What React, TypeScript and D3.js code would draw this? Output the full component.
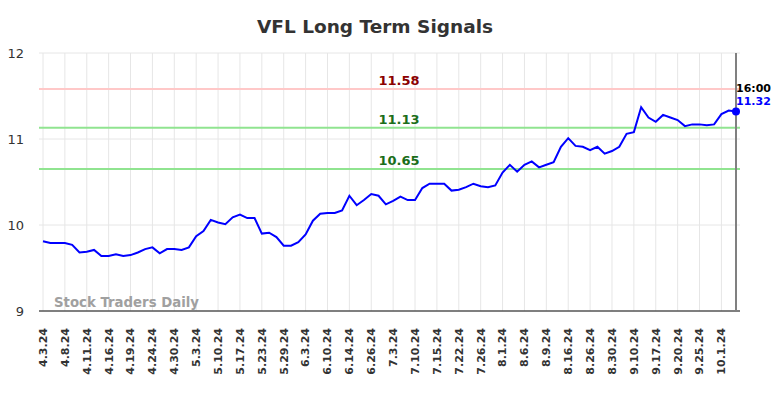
import { useEffect, useRef } from "react";
import * as d3 from "d3";

// closing values, one per trading day
const prices = [
    9.81, 9.79, 9.79, 9.79, 9.77, 9.68, 9.69, 9.71, 9.64, 9.64,
    9.66, 9.64, 9.65, 9.68, 9.72, 9.74, 9.67, 9.72, 9.72, 9.71,
    9.74, 9.87, 9.93, 10.06, 10.03, 10.01, 10.09, 10.12, 10.08, 10.08,
    9.90, 9.91, 9.86, 9.76, 9.76, 9.80, 9.89, 10.05, 10.13, 10.14,
    10.14, 10.17, 10.34, 10.23, 10.29, 10.36, 10.34, 10.24, 10.28, 10.33,
    10.29, 10.29, 10.43, 10.48, 10.48, 10.48, 10.40, 10.41, 10.44, 10.48,
    10.45, 10.44, 10.46, 10.61, 10.70, 10.62, 10.70, 10.74, 10.67, 10.70,
    10.73, 10.91, 11.01, 10.92, 10.91, 10.87, 10.91, 10.83, 10.86, 10.91,
    11.06, 11.08, 11.37, 11.25, 11.20, 11.28, 11.25, 11.22, 11.15, 11.17,
    11.17, 11.16, 11.17, 11.29, 11.33, 11.32,
];

// axis labels, one every third trading day
const tickLabels = [
    "4.3.24", "4.8.24", "4.11.24", "4.16.24", "4.19.24", "4.24.24", "4.30.24", "5.3.24",
    "5.10.24", "5.17.24", "5.23.24", "5.29.24", "6.3.24", "6.10.24", "6.14.24", "6.26.24",
    "7.3.24", "7.10.24", "7.15.24", "7.22.24", "7.26.24", "8.1.24", "8.6.24", "8.9.24",
    "8.16.24", "8.26.24", "8.30.24", "9.10.24", "9.17.24", "9.20.24", "9.25.24", "10.1.24",
];
const tickStep = 3;

const yTicks = [9, 10, 11, 12];

const signals = [
    { value: 11.58, line: "#ffc8c8", text: "#8b0000" },
    { value: 11.13, line: "#90e490", text: "#1a6e1a" },
    { value: 10.65, line: "#90e490", text: "#1a6e1a" },
];

const lastTime = "16:00";

export default function App() {
    const svgRef = useRef<SVGSVGElement | null>(null);

    useEffect(() => {
        if (!svgRef.current) return;
        const root = d3.select(svgRef.current);
        root.selectAll("*").remove();

        const width = 784;
        const height = 398;
        const font = "DejaVu Sans, sans-serif";
        const left = 43;
        const right = 740;
        const top = 53;
        const bottom = 311;

        const x = d3.scaleLinear().domain([0, prices.length - 1]).range([left, 736]);
        const y = d3.scaleLinear().domain([9, 12]).range([bottom, top]);

        const svg = root.attr("width", width).attr("height", height).style("font-family", font);

        svg.append("rect").attr("width", width).attr("height", height).attr("fill", "#fff");

        // Title
        svg.append("text")
            .attr("x", 375)
            .attr("y", 33)
            .attr("text-anchor", "middle")
            .attr("font-size", "18.5px")
            .attr("font-weight", "bold")
            .attr("fill", "#333")
            .text("VFL Long Term Signals");

        // vertical grid
        svg.append("g")
            .selectAll("line")
            .data(tickLabels)
            .enter()
            .append("line")
            .attr("x1", (_d, i) => x(i * tickStep))
            .attr("x2", (_d, i) => x(i * tickStep))
            .attr("y1", top)
            .attr("y2", bottom)
            .attr("stroke", "#e6e6e6")
            .attr("stroke-width", 1);

        // horizontal grid
        svg.append("g")
            .selectAll("line")
            .data(yTicks.filter((d) => d !== 9))
            .enter()
            .append("line")
            .attr("x1", 39)
            .attr("x2", right)
            .attr("y1", (d) => y(d))
            .attr("y2", (d) => y(d))
            .attr("stroke", "#e6e6e6")
            .attr("stroke-width", 1);

        // y labels
        svg.append("g")
            .selectAll("text")
            .data(yTicks)
            .enter()
            .append("text")
            .attr("x", 24)
            .attr("y", (d) => y(d))
            .attr("dy", "0.35em")
            .attr("text-anchor", "end")
            .attr("font-size", "13px")
            .attr("fill", "#333")
            .text((d) => d);

        // signal lines
        svg.append("g")
            .selectAll("line")
            .data(signals)
            .enter()
            .append("line")
            .attr("x1", 39)
            .attr("x2", right)
            .attr("y1", (d) => y(d.value))
            .attr("y2", (d) => y(d.value))
            .attr("stroke", (d) => d.line)
            .attr("stroke-width", 2);

        svg.append("g")
            .selectAll("text")
            .data(signals)
            .enter()
            .append("text")
            .attr("x", 399)
            .attr("y", (d) => y(d.value) - 4)
            .attr("text-anchor", "middle")
            .attr("font-size", "13px")
            .attr("font-weight", "bold")
            .attr("fill", (d) => d.text)
            .text((d) => d.value.toFixed(2));

        // watermark
        svg.append("text")
            .attr("x", 54)
            .attr("y", 307)
            .attr("font-size", "13.3px")
            .attr("font-weight", "bold")
            .attr("fill", "#a0a0a0")
            .text("Stock Traders Daily");

        // x axis line
        svg.append("line")
            .attr("x1", 39)
            .attr("x2", right)
            .attr("y1", bottom)
            .attr("y2", bottom)
            .attr("stroke", "#555")
            .attr("stroke-width", 1.5);

        // x labels
        svg.append("g")
            .selectAll("text")
            .data(tickLabels)
            .enter()
            .append("text")
            .attr("transform", (_d, i) => `translate(${x(i * tickStep)},328)rotate(-90)`)
            .attr("dy", "0.35em")
            .attr("text-anchor", "end")
            .attr("font-size", "11px")
            .attr("font-weight", "bold")
            .attr("fill", "#333")
            .text((d) => d);

        // last-point marker line
        const lastI = prices.length - 1;
        svg.append("line")
            .attr("x1", x(lastI))
            .attr("x2", x(lastI))
            .attr("y1", top)
            .attr("y2", bottom)
            .attr("stroke", "#808080")
            .attr("stroke-width", 2);

        // price line
        const line = d3
            .line<number>()
            .x((_d, i) => x(i))
            .y((d) => y(d));

        svg.append("path")
            .datum(prices)
            .attr("d", line)
            .attr("fill", "none")
            .attr("stroke", "#0000ff")
            .attr("stroke-width", 2);

        const last = prices[lastI];
        svg.append("circle")
            .attr("cx", x(lastI))
            .attr("cy", y(last))
            .attr("r", 4)
            .attr("fill", "#0000ff");

        svg.append("text")
            .attr("x", x(lastI))
            .attr("y", 92)
            .attr("font-size", "11px")
            .attr("font-weight", "bold")
            .attr("fill", "#000")
            .text(lastTime);

        svg.append("text")
            .attr("x", x(lastI))
            .attr("y", 105)
            .attr("font-size", "11px")
            .attr("font-weight", "bold")
            .attr("fill", "#0000ff")
            .text(last.toFixed(2));
    }, []);

    return (
        <svg
            ref={svgRef}
            style={{ position: "absolute", left: 0, top: 0, display: "block" }}
        />
    );
}
